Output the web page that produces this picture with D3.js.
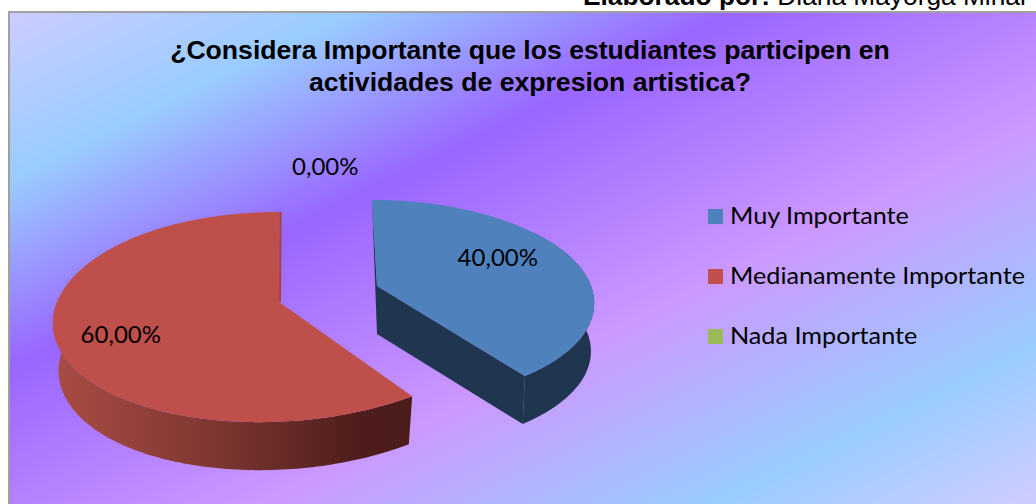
<!DOCTYPE html>
<html><head><meta charset="utf-8">
<script src="https://cdn.jsdelivr.net/npm/d3@7/dist/d3.min.js"></script>
<style>html,body{margin:0;padding:0;background:#fff;overflow:hidden}svg{display:block}</style>
</head><body><svg id="c" width="1036" height="504"></svg>
<script>
const titleLines = ["¿Considera Importante que los estudiantes participen en", "actividades de expresion artistica?"];
const categories = ["Muy Importante", "Medianamente Importante", "Nada Importante"];
const values = [40, 60, 0];
const valueLabels = ["40,00%", "60,00%", "0,00%"];
const colors = ["#4F81BD", "#BE4F4B", "#9BBB59"];
const bgStops = [[16,"#CCCCFF"],[185,"#99CCFF"],[372,"#9966FF"],[632,"#CC99FF"],[852,"#99CCFF"],[1030,"#CCCCFF"]];

// layout
const W = 1036, H = 504;
const persp = 1/7, depth = 48;
const frames = [
  {ax:377, ay:286, rx:214, ry:98.4, b:6, c:0.3, bs:0.985},
  {ax:279, ay:302, rx:222, ry:103, b:-9, c:-8.3, bs:0.975},
  {ax:279, ay:302, rx:222, ry:103, b:-9, c:-8.3, bs:0.975}
];
const labelRadius = [0.61, 0.71, 1.5];
const labelShift = [[1,-10],[-1,10],[50.5,-8]];

const svg = d3.select("#c");
const defs = svg.append("defs");

// background gradient along direction (0.49,1)
const dl = 0.49*0.49+1;
const bg = defs.append("linearGradient").attr("id","bg").attr("gradientUnits","userSpaceOnUse")
  .attr("x1",0).attr("y1",0).attr("x2",1000*0.49/dl).attr("y2",1000/dl);
bg.selectAll("stop").data(bgStops).enter().append("stop")
  .attr("offset",d=>d[0]/1000).attr("stop-color",d=>d[1]);

svg.append("text").attr("x",583).attr("y",5)
  .attr("font-family","Liberation Sans").attr("font-size",26.3).attr("fill","#000")
  .call(t=>{t.append("tspan").attr("font-weight","bold").text("Elaborado por:");
            t.append("tspan").text(" Diana Mayorga Minal");});

svg.append("rect").attr("x",9).attr("y",12).attr("width",W+20).attr("height",H+20)
  .attr("fill","url(#bg)").attr("stroke","#A0A0A0").attr("stroke-width",2);

const title = svg.append("g").attr("font-family","Liberation Sans").attr("font-weight","bold")
  .attr("font-size",26.6).attr("text-anchor","middle").attr("fill","#000");
title.selectAll("text").data(titleLines).enter().append("text")
  .attr("x",530).attr("y",(d,i)=>59+i*32).text(d=>d);

// projection of a unit-disc point on the tilted pie
function project(f, r, a) {
  const u = r*Math.sin(a), v = -r*Math.cos(a), s = 1/(1-persp*v);
  return [f.ax + (f.rx*u + f.b*v + f.c*v*v)*s, f.ay + f.ry*v*s];
}
function lower(f, p) { return [f.ax + (p[0]-f.ax)*f.bs, p[1] + depth]; }
function rim(f, a0, a1) {
  const n = Math.max(2, Math.ceil(Math.abs(a1-a0)/0.02));
  return d3.range(n+1).map(i => project(f, 1, a0 + (a1-a0)*i/n));
}
const line = d3.line();
const closed = pts => line(pts) + "Z";
const arcs = d3.pie().sort(null).value(d=>d)(values);

// red outer wall gradient
const wallScale = d3.scaleLinear().domain([0,1]).range(["#A84C44","#4B1C1A"]).interpolate(d3.interpolateRgb);
const fr = frames[1], ar = arcs[1];
const wall = defs.append("linearGradient").attr("id","wall").attr("gradientUnits","userSpaceOnUse")
  .attr("x1",project(fr,1,1.5*Math.PI)[0]).attr("y1",0)
  .attr("x2",project(fr,1,ar.startAngle)[0]).attr("y2",0);
wall.selectAll("stop").data([0,0.45,0.85,1]).enter().append("stop")
  .attr("offset",d=>d).attr("stop-color",d=>wallScale(d===0.85?0.97:d));

const g = svg.append("g");
// red slice
{
  const f = fr, a = ar;
  const wallTop = rim(f, a.startAngle, 1.5*Math.PI);
  g.append("path").attr("d",closed(wallTop.concat(wallTop.map(p=>lower(f,p)).reverse()))).attr("fill","url(#wall)");
  const top = [project(f,0,0)].concat(rim(f,a.startAngle,a.endAngle));
  g.append("path").attr("d",closed(top)).attr("fill",colors[1]);
  g.append("path").attr("d",line([project(f,0,0),project(f,1,a.endAngle)]))
    .attr("stroke","#A4423F").attr("stroke-width",2).attr("fill","none").attr("transform","translate(1,0)");
}
// blue slice
{
  const f = frames[0], a = arcs[0];
  const dark = "#1F3550", apex = project(f,0,0);
  const wallTop = rim(f, 0.3*Math.PI, a.endAngle);
  g.append("path").attr("d",closed(wallTop.concat(wallTop.map(p=>lower(f,p)).reverse()))).attr("fill",dark);
  const tip = project(f,1,a.endAngle);
  g.append("path").attr("d",closed([apex,tip,lower(f,tip),lower(f,apex)])).attr("fill",dark);
  g.append("path").attr("d",closed([project(f,1,a.startAngle),apex,lower(f,apex)])).attr("fill",dark);
  g.append("path").attr("d",closed([apex].concat(rim(f,a.startAngle,a.endAngle)))).attr("fill",colors[0]);
}

// Calibri-like text: Lato widened to the reference proportions
function wideText(sel, x, y, txt, anchor, stretch) {
  return sel.append("text").attr("transform",`translate(${x},${y}) scale(${stretch},1)`)
    .attr("font-family","Lato").attr("font-size",24).attr("fill","#000")
    .attr("text-anchor",anchor).text(txt);
}
const labels = svg.append("g");
arcs.forEach((a,i)=>{
  const f = frames[i], mid = (a.startAngle+a.endAngle)/2;
  const p = project(f, labelRadius[i], mid);
  wideText(labels, p[0]+labelShift[i][0], p[1]+labelShift[i][1]+8, valueLabels[i], "middle", 1.0);
});

const ly = d3.scalePoint().domain(categories).range([209,329]);
const legend = svg.append("g");
categories.forEach((c,i)=>{
  legend.append("rect").attr("x",708).attr("y",ly(c)).attr("width",15).attr("height",15).attr("fill",colors[i]==="#BE4F4B"?"#C0504D":colors[i]);
  wideText(legend, 730, ly(c)+15, c, "start", 1.05);
});
</script></body></html>
